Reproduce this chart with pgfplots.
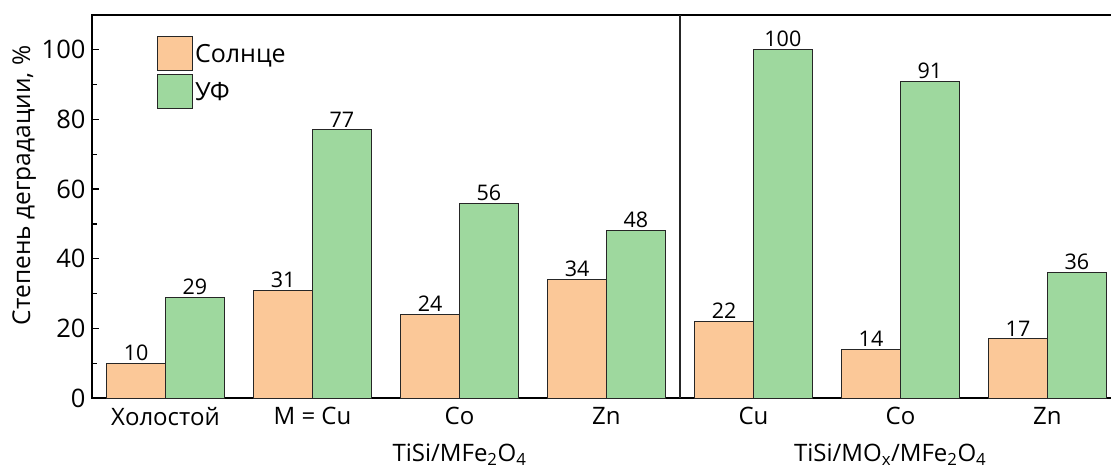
\documentclass[border=0pt]{standalone}
\usepackage{pgfplots}
\pgfplotsset{compat=1.18}
\usepackage{fontspec}
\setmainfont{Open Sans}
\definecolor{sun}{RGB}{251,200,152}
\definecolor{uv}{RGB}{158,216,158}
\pgfplotsset{/pgfplots/ybar legend/.style={/pgfplots/legend image code/.code={\draw[##1] (0pt,-16pt) rectangle (35pt,18pt);}}}
\begin{document}
\begin{tikzpicture}
\begin{axis}[
  name=ax,
  scale only axis,
  clip=false,
  width=1029pt, height=383pt,
  xmin=-0.5, xmax=6.5, ymin=0, ymax=110,
  ybar, bar width=58.8pt,
  xtick={0,...,6},
  xticklabels={Холостой, M = Cu, Co, Zn, Cu, Co, Zn},
  major x tick style={draw=none},
  ytick={0,20,...,100},
  minor y tick num=1,
  xtick pos=bottom, ytick pos=left,
  tick align=inside,
  major tick length=7pt, minor tick length=5pt,
  every tick/.style={black, line width=1.2pt},
  axis line style={line width=1.6pt},
  ylabel={Степень деградации, \%},
  ylabel style={at={(rel axis cs:-0.066,0.555)}, anchor=center, rotate=0},
  label style={font=\fontsize{24.5}{28}\selectfont},
  yticklabel style={font=\fontsize{25.5}{30}\selectfont, xshift=-3pt},
  xticklabel style={font=\fontsize{24}{28}\selectfont, yshift=-6pt},
  /pgf/number format/assume math mode=true,
  nodes near coords,
  every node near coord/.append style={font=\fontsize{21.5}{25}\selectfont, black, yshift=-1pt},
  legend style={at={(rel axis cs:0.0632,0.945)}, anchor=north west, draw=none, fill=none,
    font=\fontsize{25}{29}\selectfont, row sep=3pt, inner sep=0pt,
    /tikz/every even column/.style={column sep=13pt}},
  legend cell align=left,
]
\addplot[fill=sun, draw=black!85, line width=0.8pt, bar shift=-29.4pt]
  coordinates {(0,10) (1,31) (2,24) (3,34) (4,22) (5,14) (6,17)};
\addplot[fill=uv, draw=black!85, line width=0.8pt, bar shift=29.4pt]
  coordinates {(0,29) (1,77) (2,56) (3,48) (4,100) (5,91) (6,36)};
\legend{Солнце, УФ}
\draw[black!85, line width=1.4pt] (axis cs:3.5,0) -- (axis cs:3.5,110);
\node[font=\fontsize{24}{28}\selectfont] at (axis cs:2.0,0) [yshift=-57pt] {TiSi/MFe\textsubscript{2}O\textsubscript{4}};
\node[font=\fontsize{24}{28}\selectfont] at (axis cs:4.93,0) [yshift=-57pt] {TiSi/MO\textsubscript{x}/MFe\textsubscript{2}O\textsubscript{4}};
\end{axis}
\pgfresetboundingbox
\path[use as bounding box] ([shift={(-92pt,-73pt)}]ax.south west) rectangle ([shift={(1019pt,15pt)}]ax.north west);
\end{tikzpicture}
\end{document}
